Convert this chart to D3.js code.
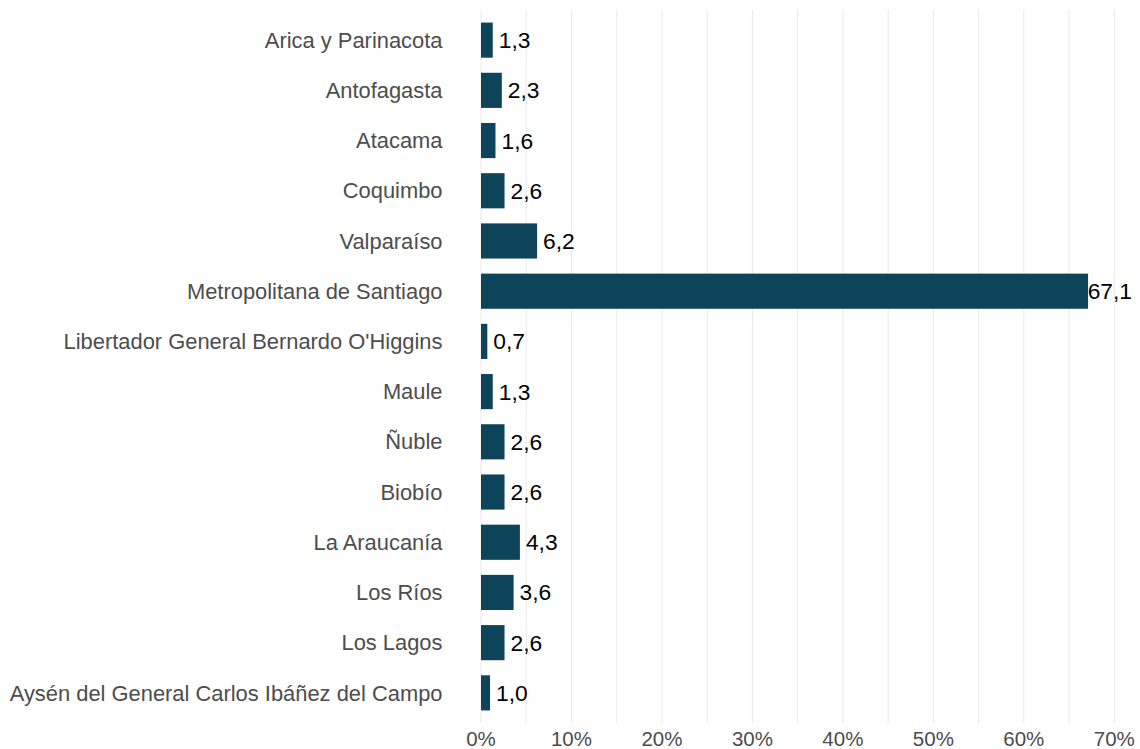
<!DOCTYPE html>
<html>
<head>
    <meta charset="utf-8">
    <style>
        body { margin: 0; background: #fff; }
        text { font-family: "Liberation Sans", Arial, sans-serif; }
    </style>
</head>
<body>
    <svg width="1140" height="749"></svg>
    <script src="https://d3js.org/d3.v7.min.js"></script>
    <script>
        let regions = ["Arica y Parinacota", "Antofagasta", "Atacama", "Coquimbo", "Valparaíso",
            "Metropolitana de Santiago", "Libertador General Bernardo O'Higgins", "Maule", "Ñuble",
            "Biobío", "La Araucanía", "Los Ríos", "Los Lagos", "Aysén del General Carlos Ibáñez del Campo"];
        let values = [1.3, 2.3, 1.6, 2.6, 6.2, 67.1, 0.7, 1.3, 2.6, 2.6, 4.3, 3.6, 2.6, 1.0];
        let xTicks = [0, 10, 20, 30, 40, 50, 60, 70];
        let xMinor = [5, 15, 25, 35, 45, 55, 65];

        let plotLeft = 481, plotRight = 1114.3, plotTop = 10, plotBottom = 723;
        let svg = d3.select("svg");

        let x = d3.scaleLinear().domain([0, 70]).range([plotLeft, plotRight]);
        let y = d3.scaleBand().domain(regions).range([plotTop, plotBottom])
            .paddingInner(0.3).paddingOuter(0.25);

        // gridlines
        svg.append("g").selectAll("line")
            .data(xTicks.concat(xMinor))
            .enter().append("line")
            .attr("x1", d => x(d)).attr("x2", d => x(d))
            .attr("y1", plotTop).attr("y2", plotBottom)
            .attr("stroke", "#ebebeb").attr("stroke-width", 1.1);

        // bars
        svg.append("g").selectAll("rect")
            .data(values)
            .enter().append("rect")
            .attr("x", x(0))
            .attr("y", (d, i) => y(regions[i]))
            .attr("width", d => x(d) - x(0))
            .attr("height", y.bandwidth())
            .attr("fill", "#0d4459");

        // value labels
        svg.append("g").selectAll("text")
            .data(values)
            .enter().append("text")
            .attr("y", (d, i) => y(regions[i]) + y.bandwidth() / 2)
            .attr("dy", "0.35em")
            .attr("font-size", "22.8px")
            .attr("fill", "#000")
            .text(d => d.toFixed(1).replace(".", ","))
            .attr("x", function(d) {
                let w = this.getComputedTextLength();
                return Math.min(x(d) + 6, 1132 - w);
            });

        // category labels
        svg.append("g").selectAll("text")
            .data(regions)
            .enter().append("text")
            .attr("x", 442.5)
            .attr("y", d => y(d) + y.bandwidth() / 2)
            .attr("dy", "0.35em")
            .attr("text-anchor", "end")
            .attr("font-size", "21.9px")
            .attr("fill", "#4d4d4d")
            .text(d => d);

        // x axis tick labels
        svg.append("g").selectAll("text")
            .data(xTicks)
            .enter().append("text")
            .attr("x", d => x(d))
            .attr("y", 745.5)
            .attr("text-anchor", "middle")
            .attr("font-size", "20.5px")
            .attr("fill", "#4d4d4d")
            .text(d => d + "%");
    </script>
</body>
</html>
